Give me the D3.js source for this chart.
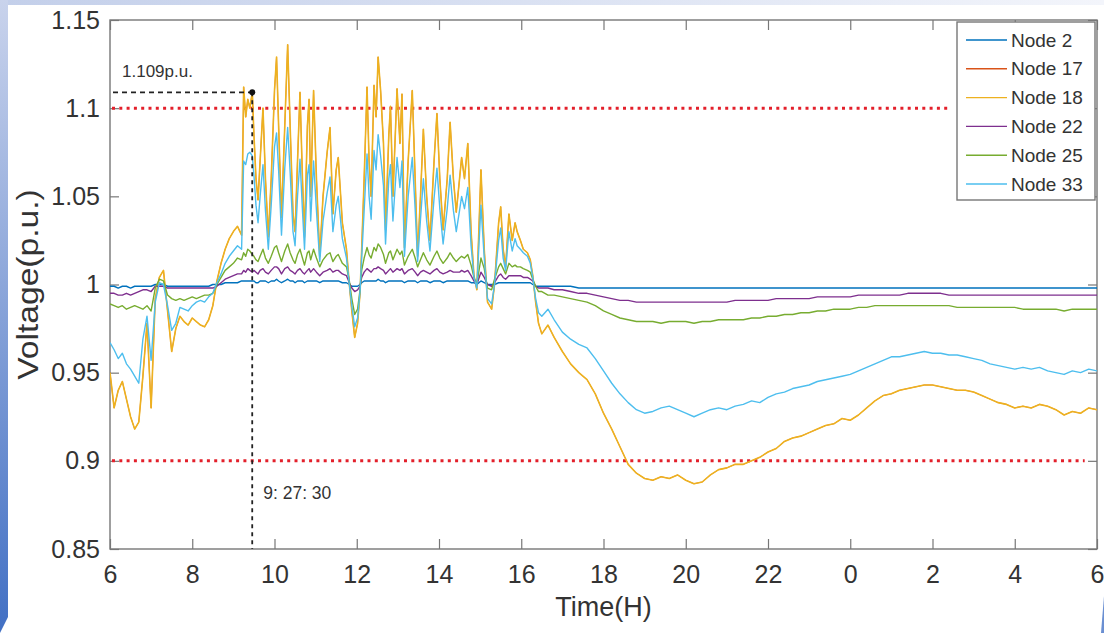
<!doctype html>
<html>
<head>
<meta charset="utf-8" />
<title>Node voltages</title>
<script src="https://d3js.org/d3.v7.min.js"></script>
<style>
  body { margin: 0; background: #fff; }
  svg text { font-family: "Liberation Sans", Arial, sans-serif; fill: #333; }
</style>
</head>
<body>
<svg id="chart" width="1104" height="633"></svg>
<script>
// hours elapsed since 06:00 (0 .. 24)
const hours = [
  // 06:00 - 09:12
  0.0,0.1,0.2,0.3,0.4,0.5,0.6,0.7,0.8,0.9,
  1.0,1.1,1.2,1.3,1.4,1.5,1.6,1.7,1.8,1.9,
  2.0,2.1,2.2,2.3,2.4,2.5,2.6,2.7,2.8,2.9,
  3.0,3.1,3.2,
  // 09:15 - 16:25 (PV fluctuation)
  3.25,3.30,3.35,3.40,3.46,3.50,3.55,3.60,3.65,3.72,
  3.78,3.85,3.92,4.00,4.05,4.10,4.17,4.25,4.32,4.38,
  4.45,4.50,4.56,4.62,4.68,4.73,4.80,4.84,4.88,4.95,
  5.02,5.10,5.18,5.28,5.35,5.42,5.50,5.55,5.65,5.75,
  5.82,5.88,5.95,6.02,6.08,6.12,6.18,6.25,6.30,6.35,
  6.42,6.47,6.52,6.58,6.65,6.70,6.78,6.82,6.88,6.98,
  7.05,7.10,7.16,7.25,7.35,7.42,7.48,7.55,7.62,7.70,
  7.78,7.88,7.95,8.02,8.10,8.20,8.27,8.35,8.42,8.50,
  8.55,8.62,8.70,8.78,8.85,8.92,9.02,9.10,9.18,9.28,
  9.35,9.45,9.50,9.56,9.62,9.70,9.78,9.85,9.90,9.98,
  10.05,10.15,10.22,10.28,10.35,10.42,
  // 16:30 - 06:00
  10.50,10.65,10.80,11.00,11.20,11.40,11.60,11.80,12.00,12.20,
  12.40,12.60,12.80,13.00,13.20,13.40,13.60,13.80,14.00,14.20,
  14.40,14.60,14.80,15.00,15.20,15.40,15.60,15.80,16.00,16.20,
  16.40,16.60,16.80,17.00,17.20,17.40,17.60,17.80,18.00,18.20,
  18.40,18.60,18.80,19.00,19.20,19.40,19.60,19.80,20.00,20.20,
  20.40,20.60,20.80,21.00,21.20,21.40,21.60,21.80,22.00,22.20,
  22.40,22.60,22.80,23.00,23.20,23.40,23.60,23.80,24.00
];

const node2 = [
  0.999,0.999,0.998,0.999,0.999,0.998,0.999,0.999,0.999,0.999,
  0.999,1.000,1.000,1.000,0.999,0.999,0.999,0.999,0.999,0.999,
  0.999,0.999,0.999,0.999,0.999,1.000,1.000,1.000,1.001,1.001,
  1.001,1.001,1.002,
  1.002,1.002,1.002,1.002,1.002,1.002,1.001,1.001,1.002,1.002,
  1.002,1.001,1.002,1.002,1.003,1.002,1.001,1.002,1.003,1.002,
  1.002,1.001,1.002,1.002,1.002,1.001,1.002,1.002,1.002,1.002,
  1.002,1.001,1.002,1.002,1.002,1.002,1.002,1.002,1.001,1.001,
  1.000,0.999,0.999,0.999,1.000,1.001,1.002,1.002,1.002,1.002,
  1.002,1.002,1.003,1.002,1.002,1.001,1.002,1.002,1.002,1.002,
  1.002,1.002,1.001,1.002,1.002,1.002,1.001,1.002,1.002,1.002,
  1.001,1.002,1.002,1.002,1.001,1.002,1.002,1.002,1.002,1.002,
  1.002,1.002,1.002,1.001,1.001,1.000,1.002,1.001,1.000,1.000,
  1.000,1.001,1.001,1.001,1.001,1.001,1.001,1.001,1.001,1.001,
  1.001,1.001,1.001,1.000,0.999,0.999,
  0.999,0.999,0.999,0.999,0.999,0.998,0.998,0.998,0.998,0.998,
  0.998,0.998,0.998,0.998,0.998,0.998,0.998,0.998,0.998,0.998,
  0.998,0.998,0.998,0.998,0.998,0.998,0.998,0.998,0.998,0.998,
  0.998,0.998,0.998,0.998,0.998,0.998,0.998,0.998,0.998,0.998,
  0.998,0.998,0.998,0.998,0.998,0.998,0.998,0.998,0.998,0.998,
  0.998,0.998,0.998,0.998,0.998,0.998,0.998,0.998,0.998,0.998,
  0.998,0.998,0.998,0.998,0.998,0.998,0.998,0.998,0.998
];

const node18 = [
  0.950,0.930,0.940,0.945,0.935,0.925,0.918,0.922,0.948,0.978,
  0.930,0.992,1.004,1.008,0.985,0.962,0.975,0.982,0.979,0.977,
  0.981,0.979,0.977,0.976,0.980,0.988,1.002,1.012,1.020,1.026,
  1.030,1.033,1.028,
  1.112,1.095,1.105,1.100,1.109,1.085,1.060,1.048,1.070,1.100,
  1.060,1.027,1.060,1.110,1.129,1.090,1.038,1.090,1.136,1.090,
  1.040,1.030,1.070,1.109,1.060,1.027,1.090,1.105,1.050,1.110,
  1.060,1.016,1.050,1.075,1.089,1.040,1.065,1.072,1.035,1.020,
  1.000,0.985,0.970,0.978,0.995,1.020,1.060,1.112,1.070,1.050,
  1.113,1.095,1.129,1.110,1.080,1.031,1.085,1.101,1.050,1.111,
  1.080,1.108,1.021,1.070,1.110,1.060,1.016,1.050,1.088,1.050,
  1.025,1.070,1.097,1.060,1.031,1.060,1.092,1.060,1.041,1.060,
  1.072,1.060,1.080,1.030,1.005,0.997,1.065,1.020,0.990,0.986,
  1.000,1.035,1.044,1.020,1.010,1.040,1.025,1.035,1.030,1.025,
  1.020,1.018,1.014,1.005,0.990,0.978,
  0.972,0.977,0.970,0.962,0.955,0.950,0.946,0.938,0.927,0.918,
  0.908,0.898,0.893,0.890,0.889,0.891,0.890,0.892,0.889,0.887,
  0.888,0.892,0.895,0.896,0.898,0.898,0.900,0.902,0.905,0.907,
  0.911,0.913,0.914,0.916,0.918,0.920,0.921,0.924,0.923,0.926,
  0.930,0.934,0.937,0.938,0.940,0.941,0.942,0.943,0.943,0.942,
  0.941,0.940,0.940,0.939,0.937,0.935,0.933,0.932,0.930,0.931,
  0.930,0.932,0.931,0.929,0.926,0.928,0.927,0.930,0.929
];

// Node 17 lies under Node 18 in the picture (hidden by it)
const node17 = node18;

const node22 = [
  0.995,0.995,0.994,0.994,0.995,0.994,0.995,0.996,0.997,0.997,
  0.996,0.999,0.999,0.999,0.998,0.998,0.998,0.998,0.998,0.998,
  0.998,0.998,0.998,0.998,0.998,0.998,0.999,1.001,1.003,1.004,
  1.005,1.006,1.006,
  1.008,1.007,1.009,1.008,1.007,1.008,1.007,1.006,1.008,1.009,
  1.007,1.006,1.008,1.010,1.010,1.009,1.006,1.009,1.010,1.008,
  1.007,1.006,1.008,1.009,1.007,1.006,1.008,1.009,1.007,1.009,
  1.007,1.005,1.007,1.008,1.009,1.007,1.008,1.008,1.006,1.005,
  1.001,0.998,0.996,0.997,0.999,1.004,1.007,1.009,1.008,1.007,
  1.009,1.009,1.010,1.009,1.008,1.006,1.008,1.009,1.007,1.009,
  1.008,1.009,1.006,1.008,1.009,1.007,1.005,1.007,1.008,1.007,
  1.006,1.008,1.009,1.007,1.006,1.007,1.008,1.007,1.007,1.007,
  1.008,1.007,1.008,1.005,1.002,1.000,1.007,1.004,1.000,0.999,
  1.001,1.005,1.006,1.004,1.003,1.005,1.005,1.005,1.005,1.005,
  1.004,1.004,1.003,1.002,0.999,0.998,
  0.998,0.998,0.997,0.997,0.996,0.995,0.995,0.994,0.993,0.992,
  0.991,0.991,0.990,0.990,0.990,0.990,0.990,0.990,0.990,0.990,
  0.990,0.990,0.990,0.990,0.991,0.991,0.991,0.991,0.991,0.992,
  0.992,0.992,0.992,0.992,0.993,0.993,0.993,0.993,0.993,0.994,
  0.994,0.994,0.994,0.994,0.994,0.995,0.995,0.995,0.995,0.995,
  0.994,0.994,0.994,0.994,0.994,0.994,0.994,0.994,0.994,0.994,
  0.994,0.994,0.994,0.994,0.994,0.994,0.994,0.994,0.994
];

const node25 = [
  0.989,0.988,0.987,0.988,0.986,0.987,0.988,0.987,0.986,0.988,
  0.985,0.998,1.003,1.002,0.994,0.992,0.991,0.992,0.991,0.992,
  0.993,0.992,0.993,0.994,0.994,0.995,1.000,1.004,1.008,1.010,
  1.012,1.015,1.014,
  1.018,1.016,1.020,1.019,1.017,1.016,1.014,1.013,1.016,1.020,
  1.015,1.012,1.016,1.021,1.022,1.018,1.013,1.019,1.023,1.018,
  1.014,1.012,1.017,1.020,1.015,1.011,1.018,1.019,1.014,1.020,
  1.015,1.010,1.014,1.017,1.018,1.013,1.016,1.017,1.012,1.010,
  1.002,0.992,0.983,0.986,0.997,1.008,1.015,1.021,1.017,1.015,
  1.021,1.019,1.023,1.021,1.017,1.012,1.018,1.019,1.014,1.020,
  1.017,1.019,1.011,1.016,1.020,1.015,1.010,1.014,1.018,1.014,
  1.011,1.016,1.019,1.015,1.012,1.015,1.018,1.015,1.013,1.015,
  1.016,1.015,1.017,1.011,1.004,1.000,1.015,1.009,0.998,0.997,
  1.003,1.010,1.012,1.009,1.006,1.012,1.010,1.011,1.010,1.010,
  1.009,1.008,1.007,1.003,0.999,0.996,
  0.996,0.994,0.994,0.993,0.992,0.991,0.990,0.988,0.985,0.983,
  0.981,0.980,0.979,0.979,0.979,0.978,0.979,0.979,0.979,0.978,
  0.979,0.979,0.980,0.980,0.980,0.980,0.981,0.981,0.982,0.982,
  0.983,0.983,0.984,0.984,0.985,0.985,0.986,0.986,0.986,0.987,
  0.987,0.988,0.988,0.988,0.988,0.988,0.988,0.988,0.988,0.988,
  0.988,0.987,0.987,0.987,0.987,0.987,0.987,0.987,0.987,0.986,
  0.986,0.986,0.986,0.986,0.985,0.986,0.986,0.986,0.986
];

const node33 = [
  0.967,0.963,0.958,0.961,0.955,0.952,0.948,0.944,0.969,0.982,
  0.957,0.990,1.001,1.000,0.988,0.974,0.978,0.987,0.986,0.985,
  0.988,0.990,0.991,0.990,0.993,0.995,1.001,1.006,1.012,1.016,
  1.019,1.022,1.020,
  1.070,1.068,1.074,1.075,1.073,1.062,1.045,1.035,1.050,1.068,
  1.042,1.020,1.045,1.078,1.086,1.065,1.028,1.066,1.089,1.064,
  1.030,1.022,1.050,1.071,1.042,1.020,1.062,1.068,1.036,1.070,
  1.042,1.013,1.036,1.052,1.061,1.030,1.045,1.050,1.026,1.015,
  1.000,0.988,0.976,0.981,0.996,1.015,1.042,1.074,1.050,1.037,
  1.076,1.065,1.085,1.073,1.056,1.023,1.060,1.068,1.036,1.072,
  1.055,1.070,1.016,1.050,1.072,1.043,1.013,1.037,1.060,1.036,
  1.019,1.049,1.066,1.043,1.023,1.043,1.062,1.042,1.030,1.042,
  1.050,1.043,1.055,1.022,1.004,0.998,1.045,1.015,0.992,0.989,
  1.000,1.025,1.032,1.015,1.008,1.030,1.019,1.026,1.022,1.020,
  1.018,1.016,1.012,1.004,0.992,0.984,
  0.982,0.986,0.980,0.973,0.969,0.966,0.964,0.958,0.951,0.944,
  0.938,0.933,0.929,0.927,0.928,0.930,0.931,0.929,0.927,0.925,
  0.927,0.929,0.930,0.929,0.931,0.932,0.934,0.933,0.936,0.938,
  0.939,0.941,0.942,0.943,0.945,0.946,0.947,0.948,0.949,0.951,
  0.953,0.955,0.957,0.959,0.959,0.960,0.961,0.962,0.961,0.961,
  0.960,0.960,0.959,0.958,0.957,0.955,0.954,0.953,0.952,0.953,
  0.952,0.953,0.951,0.950,0.949,0.951,0.950,0.952,0.951
];

const nodeNames = ["Node 2", "Node 17", "Node 18", "Node 22", "Node 25", "Node 33"];
const nodeColors = ["#0072bd", "#d95319", "#edb120", "#7e2f8e", "#77ac30", "#4dbeee"];
const xTicks = [0, 2, 4, 6, 8, 10, 12, 14, 16, 18, 20, 22, 24];
const yTicks = [0.85, 0.9, 0.95, 1, 1.05, 1.1, 1.15];
const limits = [1.1, 0.9];
const peakHour = 3 + 27 / 60 + 30 / 3600;   // 9:27:30
const peakVolt = 1.109;

const series = [node2, node17, node18, node22, node25, node33];

const svg = d3.select("#chart");
const W = 1104, H = 633;
const mLeft = 110, mRight = 1097, mTop = 20, mBottom = 549;

// slide frame
const defs = svg.append("defs");
const gl = defs.append("linearGradient").attr("id", "leftGrad")
  .attr("x1", 0).attr("y1", 0).attr("x2", 0).attr("y2", 1);
gl.append("stop").attr("offset", "0%").attr("stop-color", "#c9d3ec");
gl.append("stop").attr("offset", "100%").attr("stop-color", "#4270c4");
const gt = defs.append("linearGradient").attr("id", "topGrad")
  .attr("x1", 0).attr("y1", 0).attr("x2", 1).attr("y2", 0);
gt.append("stop").attr("offset", "0%").attr("stop-color", "#c3cfea");
gt.append("stop").attr("offset", "100%").attr("stop-color", "#f3f5fb");
defs.append("clipPath").attr("id", "plotClip")
  .append("rect").attr("x", mLeft).attr("y", mTop)
  .attr("width", mRight - mLeft).attr("height", mBottom - mTop);

svg.append("rect").attr("width", W).attr("height", H).attr("fill", "#fff");
svg.append("rect").attr("x", 0).attr("y", 0).attr("width", W).attr("height", 5)
  .attr("fill", "url(#topGrad)");
svg.append("path").attr("d", "M0,0L8,0L8,617L0,633Z").attr("fill", "url(#leftGrad)");
svg.append("path").attr("d", "M1104,596L1104,633L1101,633Z").attr("fill", "#6a8fd2");

const x = d3.scaleLinear().domain([0, 24]).range([mLeft, mRight]);
const y = d3.scaleLinear().domain([0.85, 1.15]).range([mBottom, mTop]);

// axes with inward ticks on all four sides
const fmtY = d => String(+d.toFixed(2));
svg.append("g").attr("transform", `translate(0,${mBottom})`)
  .call(d3.axisBottom(x).tickValues(xTicks).tickFormat(h => (6 + h) % 24)
    .tickSizeInner(-10).tickSizeOuter(0).tickPadding(16));
svg.append("g").attr("transform", `translate(${mLeft},0)`)
  .call(d3.axisLeft(y).tickValues(yTicks).tickFormat(fmtY)
    .tickSizeInner(-9).tickSizeOuter(0).tickPadding(10));
svg.append("g").attr("transform", `translate(0,${mTop})`)
  .call(d3.axisTop(x).tickValues(xTicks).tickFormat("").tickSizeInner(-10).tickSizeOuter(0));
svg.append("g").attr("transform", `translate(${mRight},0)`)
  .call(d3.axisRight(y).tickValues(yTicks).tickFormat("").tickSizeInner(-9).tickSizeOuter(0));

svg.selectAll(".domain").remove();
svg.selectAll(".tick line").attr("stroke", "#777").attr("stroke-width", 1.2);
svg.selectAll(".tick text").attr("font-size", 25).attr("fill", "#333")
  .attr("font-family", '"Liberation Sans", Arial, sans-serif');

svg.append("rect").attr("x", mLeft).attr("y", mTop)
  .attr("width", mRight - mLeft).attr("height", mBottom - mTop)
  .attr("fill", "none").attr("stroke", "#777").attr("stroke-width", 1.4);

// voltage limits
const plot = svg.append("g").attr("clip-path", "url(#plotClip)");
const limitEnds = [20.45, 23.7];
plot.selectAll("line.limit").data(limits).enter().append("line")
  .attr("class", "limit")
  .attr("x1", x(0) + 2).attr("x2", (d, i) => x(limitEnds[i]))
  .attr("y1", d => y(d)).attr("y2", d => y(d))
  .attr("stroke", "#e3202b").attr("stroke-width", 3)
  .attr("stroke-dasharray", "3,4.3");

// node voltage curves (Node 17 thinner so Node 18 covers it)
const line = d3.line().x((d, i) => x(hours[i])).y(d => y(d));
plot.selectAll("path.node").data(series).enter().append("path")
  .attr("class", "node")
  .attr("d", line)
  .attr("fill", "none")
  .attr("stroke", (d, i) => nodeColors[i])
  .attr("stroke-width", (d, i) => i === 1 ? 0.8 : (i === 2 ? 1.6 : 1.4))
  .attr("stroke-linejoin", "round");

// peak annotation
svg.append("line").attr("x1", x(0) + 3).attr("x2", x(peakHour))
  .attr("y1", y(peakVolt)).attr("y2", y(peakVolt))
  .attr("stroke", "#222").attr("stroke-width", 1.8).attr("stroke-dasharray", "5,4");
svg.append("line").attr("x1", x(peakHour)).attr("x2", x(peakHour))
  .attr("y1", y(peakVolt)).attr("y2", y(0.85))
  .attr("stroke", "#222").attr("stroke-width", 1.8).attr("stroke-dasharray", "4,4");
svg.append("circle").attr("cx", x(peakHour)).attr("cy", y(peakVolt)).attr("r", 3)
  .attr("fill", "#111");
svg.append("text").attr("x", 122).attr("y", 77).attr("font-size", 17)
  .text(peakVolt + "p.u.");
svg.append("text").attr("x", x(peakHour) + 11).attr("y", 499).attr("font-size", 17.5)
  .text("9: 27: 30");

// axis titles
svg.append("text").attr("x", (mLeft + mRight) / 2).attr("y", 616)
  .attr("text-anchor", "middle").attr("font-size", 27).text("Time(H)");
svg.append("text")
  .attr("transform", `translate(38,${(mTop + mBottom) / 2}) rotate(-90) scale(1.12,1)`)
  .attr("text-anchor", "middle").attr("font-size", 30).text("Voltage(p.u.)");

// legend
const lg = svg.append("g").attr("transform", "translate(957,22)");
lg.append("rect").attr("width", 138).attr("height", 178)
  .attr("fill", "#fff").attr("stroke", "#777").attr("stroke-width", 1.4);
const rows = lg.selectAll("g.row").data(nodeNames).enter().append("g")
  .attr("class", "row").attr("transform", (d, i) => `translate(0,${18 + i * 28.8})`);
rows.append("line").attr("x1", 9).attr("x2", 50).attr("y1", 0).attr("y2", 0)
  .attr("stroke", (d, i) => nodeColors[i]).attr("stroke-width", 1.4);
rows.append("text").attr("x", 54).attr("y", 0).attr("dy", "0.35em")
  .attr("font-size", 19).text(d => d);
</script>
</body>
</html>
